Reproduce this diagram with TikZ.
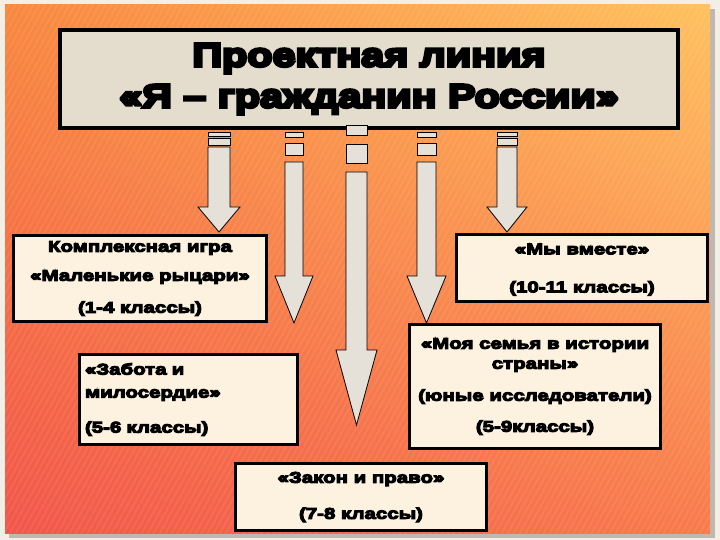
\documentclass[tikz,border=0pt]{standalone}
\usepackage{fontspec}
\newfontfamily\hvt{Liberation Sans Bold}[FakeStretch=1.25,FakeBold=9]
\newfontfamily\hv{Liberation Sans Bold}[FakeStretch=1.32,FakeBold=7]
\usetikzlibrary{shadings}
\definecolor{framebg}{HTML}{F4EFE6}
\definecolor{shadowgrey}{HTML}{9A948C}
\definecolor{titlefill}{HTML}{E4DDCE}
\definecolor{boxfill}{HTML}{FCF2DF}
\definecolor{arrfill}{HTML}{E6E1D8}
\definecolor{bgUL}{HTML}{F8883F}
\definecolor{bgUR}{HTML}{FFC15E}
\definecolor{bgLL}{HTML}{F2564A}
\definecolor{bgLR}{HTML}{F87A4C}
% striped arrow: left x, right x, stripe1 top, stripe1 bottom, stripe2 top, stripe2 bottom, shaft top, head top, tip y
\newcommand\sarrow[9]{%
  \draw[arr] (#1,#3) rectangle (#2,#4);
  \draw[arr] (#1,#5) rectangle (#2,#6);
  \draw[arr] (#1,#7) -- (#1,#8) -- ({#1-10},#8) -- ({(#1+#2)/2},#9) -- ({#2+10},#8) -- (#2,#8) -- (#2,#7) -- cycle;
}
\begin{document}
\begin{tikzpicture}[x=1pt,y=-1pt,
  arr/.style={draw=black, line width=0.8pt, fill=arrfill, line join=miter},
  box/.style={draw=black, line width=3pt, fill=boxfill, inner sep=0pt,
    font=\hv\fontsize{15.5}{20}\selectfont, align=center},
  titlebox/.style={draw=black, line width=4pt, fill=titlefill, inner sep=0pt,
    font=\hvt\fontsize{33}{41}\selectfont, align=center}]
\useasboundingbox (0,0) rectangle (720,540);
\fill[framebg] (0,0) rectangle (720,540);
\fill[shadowgrey, opacity=0.6] (9,9) rectangle (715,538);
\shade[upper left=bgUL, upper right=bgUR, lower left=bgLL, lower right=bgLR] (5,5) rectangle (710,533);
\begin{scope}
  \clip (5,5) rectangle (710,533);
  \foreach \i in {0,6,...,1020} \draw[white, opacity=0.07, line width=2pt] ({\i-300},540) -- (\i,0);
\end{scope}

\node[titlebox, minimum width=618pt, minimum height=98pt] (t) at (369,79)
  {Проектная линия\\«Я – гражданин России»};

\sarrow{208}{230}{132}{136}{138}{145}{147}{207}{232}
\sarrow{285}{303}{132}{137}{143}{155}{162}{276}{323}
\sarrow{346}{367}{125}{135}{144}{163}{172}{350}{425}
\sarrow{417}{436}{132}{137}{143}{155}{162}{276}{323}
\sarrow{497}{517}{132}{136}{138}{145}{147}{207}{232}

\node[box, minimum width=253pt, minimum height=86pt] (b1) at (140,278.5)
  {Комплексная игра\\[9pt]«Маленькие рыцари»\\[12pt](1-4 классы)};
\node[box, minimum width=251pt, minimum height=67pt, text depth=0pt] (b5) at (582,268)
  {«Мы вместе»\\[18pt](10-11 классы)};
\node[box, minimum width=218pt, minimum height=90pt, text width=207pt, inner xsep=5.5pt, align=left] (b2) at (188.5,399.5)
  {«Забота и\\[3pt]милосердие»\\[15pt](5-6 классы)};
\node[box, minimum width=251pt, minimum height=124pt] (b4) at (535,386.5)
  {«Моя семья в истории\\страны»\\[12pt](юные исследователи)\\[11pt](5-9классы)};
\node[box, minimum width=251pt, minimum height=67pt] (b3) at (361,497)
  {«Закон и право»\\[16pt](7-8 классы)};
\end{tikzpicture}
\end{document}
